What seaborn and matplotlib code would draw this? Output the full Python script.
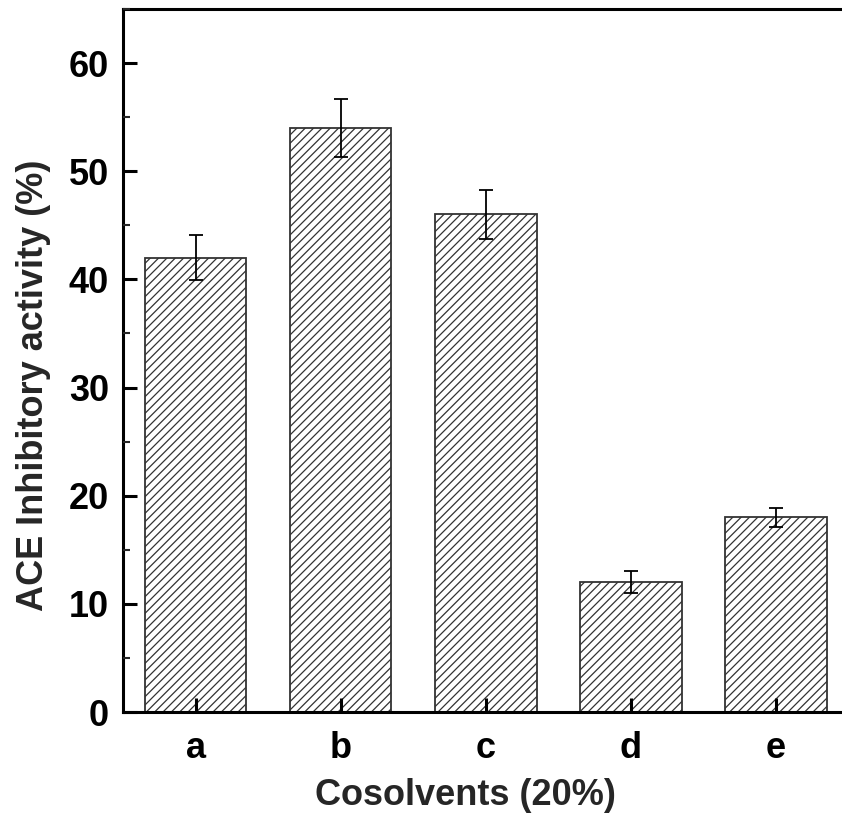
import matplotlib
matplotlib.use("Agg")
import matplotlib.pyplot as plt
import seaborn as sns
import pandas as pd
from matplotlib.ticker import MultipleLocator

categories = ["a", "b", "c", "d", "e"]
values = [42, 54, 46, 12, 18]
errors = [2.1, 2.7, 2.3, 1.0, 0.9]

sns.set_theme(style="white")
plt.rcParams['font.family'] = ['Liberation Sans', 'DejaVu Sans']
plt.rcParams['font.weight'] = 'bold'
plt.rcParams['hatch.linewidth'] = 0.9
plt.rcParams['hatch.color'] = 'black'

df = pd.DataFrame({"cat": categories, "val": values})

fig = plt.figure(figsize=(8.42, 8.23), dpi=100)
ax = fig.add_axes([123/842, 111/823, (848.5-123)/842, (712-9)/823])

sns.barplot(data=df, x="cat", y="val", ax=ax, color="white", width=0.7,
            edgecolor="#333333", linewidth=1.3, hatch="////", errorbar=None)
ax.errorbar(range(len(categories)), values, yerr=errors, fmt="none",
            ecolor="black", elinewidth=1.3, capsize=5, capthick=1.3)

ax.set_xlim(-0.5, 4.5)
ax.set_ylim(0, 65)
ax.set_axisbelow(False)
ax.yaxis.set_major_locator(MultipleLocator(10))
ax.yaxis.set_minor_locator(MultipleLocator(5))

for s in ["left", "bottom", "top"]:
    ax.spines[s].set_linewidth(2.2)
    ax.spines[s].set_color("black")
ax.spines["right"].set_visible(False)

ax.tick_params(axis="y", which="major", direction="in", length=10, width=2.2,
               labelsize=26, pad=10, left=True, colors="black")
ax.tick_params(axis="y", which="minor", direction="in", length=5, width=1.5, left=True)
ax.tick_params(axis="x", which="major", direction="in", length=10, width=2.2,
               labelsize=26, pad=14, bottom=True, colors="black")

ax.set_xlabel("Cosolvents (20%)", fontsize=26, fontweight="bold")
ax.set_ylabel("ACE Inhibitory activity (%)", fontsize=26, fontweight="bold")
ax.xaxis.set_label_coords(0.472, -0.094)
ax.yaxis.set_label_coords(-0.099, 0.465)

fig.savefig("out.png", dpi=100)
